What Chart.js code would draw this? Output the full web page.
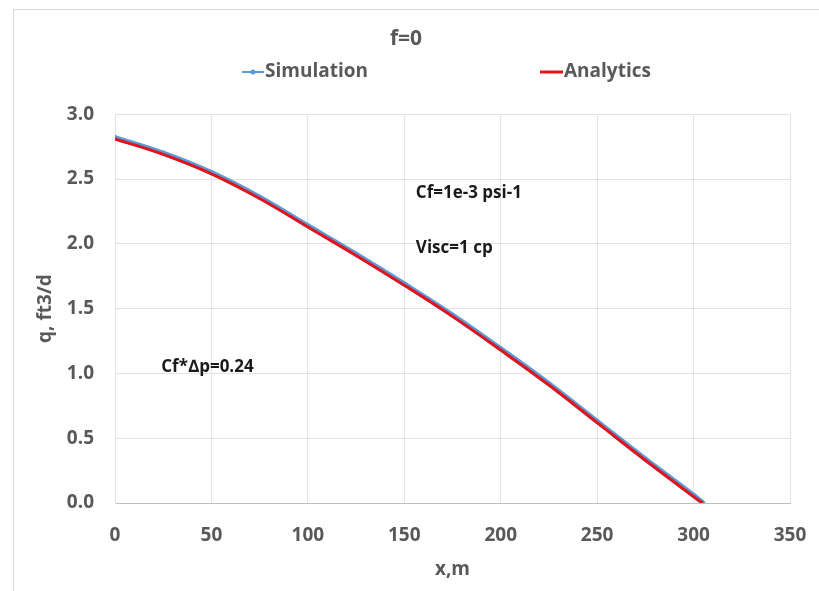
<!DOCTYPE html>
<html>
<head>
<meta charset="utf-8">
<script src="https://cdn.jsdelivr.net/npm/chart.js@4"></script>
<style>
  html, body { margin: 0; padding: 0; background: #fff; overflow: hidden; }
  #frame { position: absolute; left: 13px; top: 9px; width: 830px; height: 610px; border: 1px solid #d9d9d9; }
  #wrap { position: absolute; left: 0; top: 0; width: 819px; height: 591px; }
</style>
</head>
<body>
<div id="frame"></div>
<div id="wrap"><canvas id="qChart"></canvas></div>
<script>
// distance along the fracture, m
const xValues = [0, 25, 50, 75, 100, 125, 150, 175, 200, 225, 250, 275, 300, 304.8];
// rate, ft3/d
const simulationQ = [2.82, 2.70, 2.55, 2.36, 2.14, 1.92, 1.69, 1.45, 1.19, 0.92, 0.63, 0.34, 0.06, 0.00];
const analyticsQ  = [2.81, 2.69, 2.54, 2.35, 2.13, 1.91, 1.68, 1.44, 1.18, 0.91, 0.62, 0.33, 0.05, 0.00];

const xTicks = [0, 50, 100, 150, 200, 250, 300, 350];
const yTicks = [0, 0.5, 1.0, 1.5, 2.0, 2.5, 3.0];

// notes placed in data coordinates (x, q)
const noteTexts = ['Cf=1e-3 psi-1', 'Visc=1 cp', 'Cf*\u2206p=0.24'];
const noteX = [156, 156, 24];
const noteY = [2.39, 1.97, 1.05];

const textGrey = '#595959';
const blue = '#5b9bd5';
const red = '#e3131b';
const fontFamily = '"Open Sans", Lato, sans-serif';

const toPoints = (xs, ys) => xs.map((x, i) => ({ x: x, y: ys[i] }));

// legend + notes drawn by hand so the two entries sit far apart like the original
const extras = {
  id: 'extras',
  afterDraw(chart) {
    const ctx = chart.ctx;
    const area = chart.chartArea;
    const xs = chart.scales.x, ys = chart.scales.y;
    ctx.save();
    ctx.font = 'bold 19px ' + fontFamily;
    ctx.textBaseline = 'middle';
    ctx.fillStyle = textGrey;
    const ly = 72;
    // Simulation entry
    let lx = area.left + 127;
    ctx.strokeStyle = blue;
    ctx.lineWidth = 2;
    ctx.beginPath(); ctx.moveTo(lx, ly); ctx.lineTo(lx + 22, ly); ctx.stroke();
    ctx.fillStyle = blue;
    ctx.beginPath(); ctx.arc(lx + 11, ly, 2.5, 0, Math.PI * 2); ctx.fill();
    ctx.fillStyle = textGrey;
    ctx.fillText('Simulation', lx + 23, ly);
    // Analytics entry
    lx = area.left + 425;
    ctx.strokeStyle = red;
    ctx.lineWidth = 3;
    ctx.beginPath(); ctx.moveTo(lx, ly); ctx.lineTo(lx + 23, ly); ctx.stroke();
    ctx.fillText('Analytics', lx + 24, ly);

    ctx.font = 'bold 17px ' + fontFamily;
    ctx.fillStyle = '#1a1a1a';
    noteTexts.forEach((t, i) => {
      ctx.fillText(t, xs.getPixelForValue(noteX[i]), ys.getPixelForValue(noteY[i]));
    });
    ctx.restore();
  }
};

const ctx = document.getElementById('qChart').getContext('2d');
new Chart(ctx, {
  type: 'line',
  data: {
    datasets: [{
      label: 'Simulation',
      data: toPoints(xValues, simulationQ),
      borderColor: blue,
      backgroundColor: blue,
      borderWidth: 5,
      pointRadius: 2.5,
      pointBorderWidth: 0,
      tension: 0.4,
      order: 2
    }, {
      label: 'Analytics',
      data: toPoints(xValues, analyticsQ),
      borderColor: red,
      backgroundColor: red,
      borderWidth: 3,
      pointRadius: 0,
      tension: 0.4,
      order: 1
    }]
  },
  options: {
    responsive: true,
    maintainAspectRatio: false,
    animation: false,
    layout: { padding: { left: 22, right: 29, top: 10, bottom: 0 } },
    plugins: {
      legend: { display: false },
      tooltip: { enabled: false },
      title: {
        display: true,
        text: 'f=0',
        color: textGrey,
        font: { family: fontFamily, size: 21, weight: 'bold' },
        padding: { top: 16, bottom: 63 }
      }
    },
    scales: {
      x: {
        type: 'linear',
        min: 0,
        max: 350,
        afterBuildTicks: s => { s.ticks = xTicks.map(v => ({ value: v })); },
        afterFit: s => { s.height = 88; s.paddingRight = 0; s.paddingLeft = 0; },
        grid: { color: '#e3e3e3', drawTicks: false },
        border: { color: '#bfbfbf' },
        ticks: {
          color: textGrey,
          padding: 21,
          font: { family: fontFamily, size: 19, weight: 'bold' }
        },
        title: {
          display: true,
          text: 'x,m',
          color: textGrey,
          font: { family: fontFamily, size: 19, weight: 'bold' },
          padding: { top: 0, bottom: 10 }
        }
      },
      y: {
        min: 0,
        max: 3,
        afterBuildTicks: s => { s.ticks = yTicks.map(v => ({ value: v })); },
        afterFit: s => { s.width = 93; },
        grid: {
          color: c => c.tick && c.tick.value === 0 ? '#bfbfbf' : '#e3e3e3',
          drawTicks: false
        },
        border: { color: '#e3e3e3' },
        ticks: {
          color: textGrey,
          padding: 21,
          callback: v => v.toFixed(1),
          font: { family: fontFamily, size: 19, weight: 'bold' }
        },
        title: {
          display: true,
          text: 'q, ft3/d',
          color: textGrey,
          font: { family: fontFamily, size: 19, weight: 'bold' },
          padding: { top: 12, bottom: 0 }
        }
      }
    }
  },
  plugins: [extras]
});
</script>
</body>
</html>
